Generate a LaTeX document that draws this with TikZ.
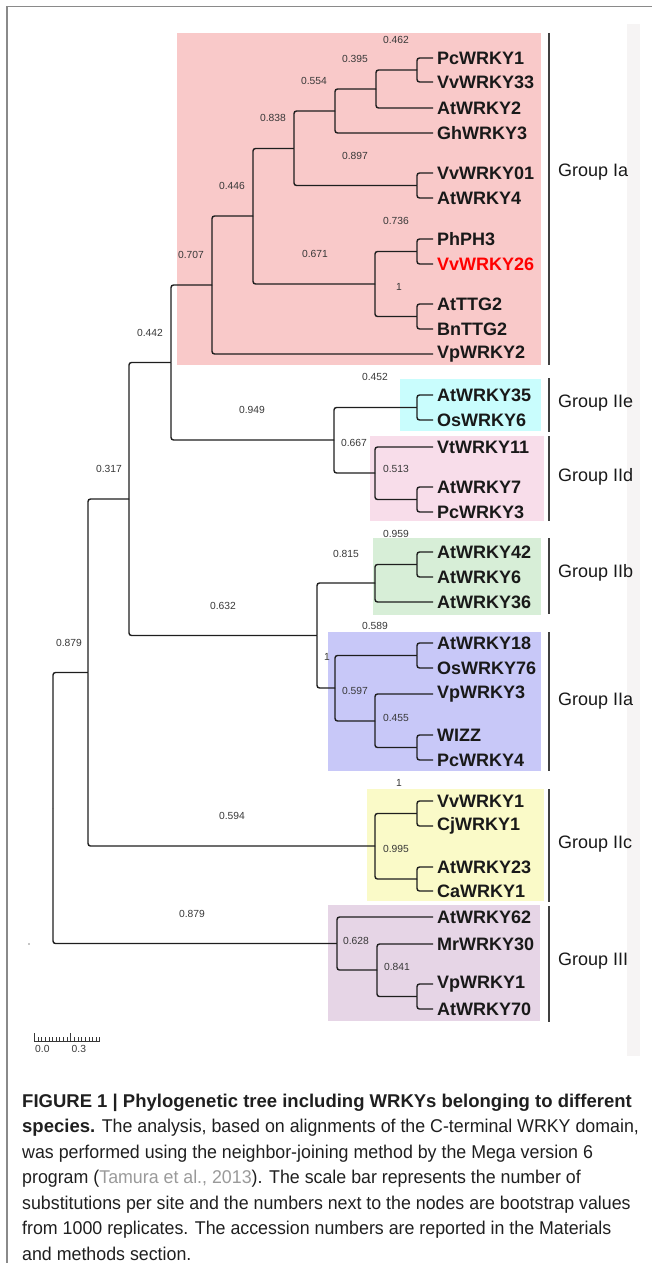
\documentclass[tikz,border=0pt]{standalone}
\usepackage{fontspec}
\setmainfont{Liberation Sans}
\newfontfamily\capfont{Liberation Sans}[FakeStretch=0.962]
\definecolor{treeline}{HTML}{1E1E1E}
\definecolor{bootgray}{HTML}{383838}
\definecolor{framegray}{HTML}{8A8A8A}
\definecolor{stripgray}{HTML}{F6F4F4}
\definecolor{citegray}{HTML}{9A9A9A}
\definecolor{fillIa}{HTML}{F9C9C9}
\definecolor{fillIIe}{HTML}{C9FDFD}
\definecolor{fillIId}{HTML}{F8DDEA}
\definecolor{fillIIb}{HTML}{D7EED7}
\definecolor{fillIIa}{HTML}{C8C8F8}
\definecolor{fillIIc}{HTML}{FAFAC8}
\definecolor{fillIII}{HTML}{E6D5E6}
\tikzset{
  branch/.style={draw=treeline, line width=1.4pt, rounded corners=2.5pt},
  leaf/.style={anchor=west, inner xsep=4pt, inner ysep=0pt, text=black!90,
    font=\bfseries\fontsize{18}{18}\selectfont},
  boot/.style={inner sep=0pt, text=bootgray, font=\fontsize{10.3}{10.3}\selectfont},
  grouplabel/.style={anchor=west, inner sep=0pt, text=black!90,
    font=\fontsize{18}{18}\selectfont},
  bracket/.style={draw=black!75, line width=1.4pt},
  capline/.style={anchor=base west, inner sep=0pt, text=black!88,
    font=\capfont\fontsize{18.5}{18.5}\selectfont},
}

\begin{document}
\begin{tikzpicture}[x=1pt, y=-1pt]
  \useasboundingbox (0,0) rectangle (652,1263);
  \draw[framegray, line width=1.5pt] (652,6.5) -- (7,6.5) -- (7,1263);
  \fill[stripgray] (627,24) rectangle (640,1056);

  \fill[fillIa] (177,33) rectangle (541,365);
  \fill[fillIIe] (400,379) rectangle (541,431);
  \fill[fillIId] (370,436) rectangle (544,521);
  \fill[fillIIb] (373,538) rectangle (541,615);
  \fill[fillIIa] (328,632) rectangle (541,771);
  \fill[fillIIc] (367,789) rectangle (544,901);
  \fill[fillIII] (328,905) rectangle (540,1021);

  \draw[bracket] (549,33) -- (549,365);
  \draw[bracket] (549,378) -- (549,432);
  \draw[bracket] (549,436) -- (549,521);
  \draw[bracket] (549,538) -- (549,614);
  \draw[bracket] (549,632) -- (549,771);
  \draw[bracket] (549,789) -- (549,902);
  \draw[bracket] (549,906) -- (549,1022);

  \node[grouplabel] (gIa) at (558,172) {Group Ia};
  \node[grouplabel] (gIIe) at (558,403) {Group IIe};
  \node[grouplabel] (gIId) at (558,477) {Group IId};
  \node[grouplabel] (gIIb) at (558,573) {Group IIb};
  \node[grouplabel] (gIIa) at (558,701) {Group IIa};
  \node[grouplabel] (gIIc) at (558,844) {Group IIc};
  \node[grouplabel] (gIII) at (558,961) {Group III};

  \node[leaf] (pc1) at (433,58) {PcWRKY1};
  \node[leaf] (vv33) at (433,82) {VvWRKY33};
  \node[leaf] (at2) at (433,108) {AtWRKY2};
  \node[leaf] (gh3) at (433,133) {GhWRKY3};
  \node[leaf] (vv01) at (433,173) {VvWRKY01};
  \node[leaf] (at4) at (433,198) {AtWRKY4};
  \node[leaf] (ph3) at (433,239) {PhPH3};
  \node[leaf, text=red] (vv26) at (433,264) {VvWRKY26};
  \node[leaf] (ttg2) at (433,304) {AtTTG2};
  \node[leaf] (bn2) at (433,329) {BnTTG2};
  \node[leaf] (vp2) at (433,354) {VpWRKY2};
  \node[leaf] (at35) at (433,395) {AtWRKY35};
  \node[leaf] (os6) at (433,420) {OsWRKY6};
  \node[leaf] (vt11) at (433,447) {VtWRKY11};
  \node[leaf] (at7) at (433,487) {AtWRKY7};
  \node[leaf] (pc3) at (433,512) {PcWRKY3};
  \node[leaf] (at42) at (433,552) {AtWRKY42};
  \node[leaf] (at6) at (433,577) {AtWRKY6};
  \node[leaf] (at36) at (433,602) {AtWRKY36};
  \node[leaf] (at18) at (433,643) {AtWRKY18};
  \node[leaf] (os76) at (433,668) {OsWRKY76};
  \node[leaf] (vp3) at (433,694) {VpWRKY3};
  \node[leaf] (wizz) at (433,735) {WIZZ};
  \node[leaf] (pc4) at (433,760) {PcWRKY4};
  \node[leaf] (vv1) at (433,801) {VvWRKY1};
  \node[leaf] (cj1) at (433,826) {CjWRKY1};
  \node[leaf] (at23) at (433,867) {AtWRKY23};
  \node[leaf] (ca1) at (433,891) {CaWRKY1};
  \node[leaf] (at62) at (433,917) {AtWRKY62};
  \node[leaf] (mr30) at (433,944) {MrWRKY30};
  \node[leaf] (vp1) at (433,984) {VpWRKY1};
  \node[leaf] (at70) at (433,1009) {AtWRKY70};

  \coordinate (nA) at (417,70);
  \coordinate (nB) at (376,89);
  \coordinate (nC) at (335,111);
  \coordinate (nE) at (417,185.5);
  \coordinate (nD) at (294,148.5);
  \coordinate (nF) at (417,251.5);
  \coordinate (nG) at (417,316.5);
  \coordinate (nH) at (375,284);
  \coordinate (nI) at (253,216);
  \coordinate (nJ) at (212,285);
  \coordinate (nM) at (417,407.5);
  \coordinate (nO) at (417,499.5);
  \coordinate (nN) at (375,473);
  \coordinate (nL) at (334,440);
  \coordinate (nK) at (171,362.5);
  \coordinate (nR) at (417,564.5);
  \coordinate (nS) at (375,583);
  \coordinate (nT) at (417,655.5);
  \coordinate (nU) at (417,747.5);
  \coordinate (nV) at (375,721);
  \coordinate (nW) at (335,688);
  \coordinate (nQ) at (317,635.5);
  \coordinate (nP) at (129,499);
  \coordinate (nZ) at (417,813.5);
  \coordinate (nY1) at (417,879);
  \coordinate (nY) at (375,846);
  \coordinate (nX) at (88,672.5);
  \coordinate (n3b) at (417,996.5);
  \coordinate (n3a) at (377,970);
  \coordinate (n3) at (337,943.5);
  \coordinate (root) at (53,808);

  \draw[branch] (nA) |- (pc1.west);
  \draw[branch] (nA) |- (vv33.west);
  \draw[branch] (nB) |- (nA);
  \draw[branch] (nB) |- (at2.west);
  \draw[branch] (nC) |- (nB);
  \draw[branch] (nC) |- (gh3.west);
  \draw[branch] (nE) |- (vv01.west);
  \draw[branch] (nE) |- (at4.west);
  \draw[branch] (nD) |- (nC);
  \draw[branch] (nD) |- (nE);
  \draw[branch] (nF) |- (ph3.west);
  \draw[branch] (nF) |- (vv26.west);
  \draw[branch] (nG) |- (ttg2.west);
  \draw[branch] (nG) |- (bn2.west);
  \draw[branch] (nH) |- (nF);
  \draw[branch] (nH) |- (nG);
  \draw[branch] (nI) |- (nD);
  \draw[branch] (nI) |- (nH);
  \draw[branch] (nJ) |- (nI);
  \draw[branch] (nJ) |- (vp2.west);
  \draw[branch] (nM) |- (at35.west);
  \draw[branch] (nM) |- (os6.west);
  \draw[branch] (nO) |- (at7.west);
  \draw[branch] (nO) |- (pc3.west);
  \draw[branch] (nN) |- (vt11.west);
  \draw[branch] (nN) |- (nO);
  \draw[branch] (nL) |- (nM);
  \draw[branch] (nL) |- (nN);
  \draw[branch] (nK) |- (nJ);
  \draw[branch] (nK) |- (nL);
  \draw[branch] (nR) |- (at42.west);
  \draw[branch] (nR) |- (at6.west);
  \draw[branch] (nS) |- (nR);
  \draw[branch] (nS) |- (at36.west);
  \draw[branch] (nT) |- (at18.west);
  \draw[branch] (nT) |- (os76.west);
  \draw[branch] (nU) |- (wizz.west);
  \draw[branch] (nU) |- (pc4.west);
  \draw[branch] (nV) |- (vp3.west);
  \draw[branch] (nV) |- (nU);
  \draw[branch] (nW) |- (nT);
  \draw[branch] (nW) |- (nV);
  \draw[branch] (nQ) |- (nS);
  \draw[branch] (nQ) |- (nW);
  \draw[branch] (nP) |- (nK);
  \draw[branch] (nP) |- (nQ);
  \draw[branch] (nZ) |- (vv1.west);
  \draw[branch] (nZ) |- (cj1.west);
  \draw[branch] (nY1) |- (at23.west);
  \draw[branch] (nY1) |- (ca1.west);
  \draw[branch] (nY) |- (nZ);
  \draw[branch] (nY) |- (nY1);
  \draw[branch] (nX) |- (nP);
  \draw[branch] (nX) |- (nY);
  \draw[branch] (n3b) |- (vp1.west);
  \draw[branch] (n3b) |- (at70.west);
  \draw[branch] (n3a) |- (mr30.west);
  \draw[branch] (n3a) |- (n3b);
  \draw[branch] (n3) |- (at62.west);
  \draw[branch] (n3) |- (n3a);
  \draw[branch] (root) |- (nX);
  \draw[branch] (root) |- (n3);

  \node[boot] (b1) at (396,40) {0.462};
  \node[boot] (b2) at (355,59) {0.395};
  \node[boot] (b3) at (314,81) {0.554};
  \node[boot] (b4) at (273,118) {0.838};
  \node[boot] (b5) at (355,156) {0.897};
  \node[boot] (b6) at (232,186) {0.446};
  \node[boot] (b7) at (396,221) {0.736};
  \node[boot] (b8) at (191,255) {0.707};
  \node[boot] (b9) at (315,254) {0.671};
  \node[boot] (b10) at (399,287) {1};
  \node[boot] (b11) at (150,333) {0.442};
  \node[boot] (b12) at (375,377) {0.452};
  \node[boot] (b13) at (252,410) {0.949};
  \node[boot] (b14) at (354,443) {0.667};
  \node[boot] (b15) at (109,469) {0.317};
  \node[boot] (b16) at (396,469) {0.513};
  \node[boot] (b17) at (396,534) {0.959};
  \node[boot] (b18) at (346,554) {0.815};
  \node[boot] (b19) at (223,606) {0.632};
  \node[boot] (b20) at (375,626) {0.589};
  \node[boot] (b21) at (69,643) {0.879};
  \node[boot] (b22) at (327,657) {1};
  \node[boot] (b23) at (355,691) {0.597};
  \node[boot] (b24) at (396,718) {0.455};
  \node[boot] (b25) at (399,783) {1};
  \node[boot] (b26) at (232,816) {0.594};
  \node[boot] (b27) at (396,849) {0.995};
  \node[boot] (b28) at (192,914) {0.879};
  \node[boot] (b29) at (356,941) {0.628};
  \node[boot] (b30) at (397,967) {0.841};

  \fill[black!45] (29,944) circle (0.8);

  \coordinate (s0) at (34.3,1041);
  \draw[bootgray, line width=0.8pt] (s0) -- ++(65.5,0);
  \foreach \i in {0,...,18} {
    \pgfmathsetmacro\tick{ifthenelse(mod(\i,10)==0,8,4.5)}
    \draw[bootgray, line width=0.7pt] ([xshift=3.64*\i pt]s0) -- ++(0,-\tick);
  }
  \node[boot, anchor=north west] (s00) at (35,1045.5) {0.0};
  \node[boot, anchor=north west] (s03) at (71.5,1045.5) {0.3};

  \node[capline] (c1) at (22,1107) {\normalfont\bfseries FIGURE 1 | Phylogenetic tree including WRKYs belonging to different};
  \node[capline] (c2) at (22,1132.5) {{\normalfont\bfseries species.} The analysis, based on alignments of the C-terminal WRKY domain,};
  \node[capline] (c3) at (22,1158) {was performed using the neighbor-joining method by the Mega version 6};
  \node[capline] (c4) at (22,1183.5) {program (\textcolor{citegray}{Tamura et al., 2013}). The scale bar represents the number of};
  \node[capline] (c5) at (22,1209) {substitutions per site and the numbers next to the nodes are bootstrap values};
  \node[capline] (c6) at (22,1234.5) {from 1000 replicates. The accession numbers are reported in the Materials};
  \node[capline] (c7) at (22,1260) {and methods section.};
\end{tikzpicture}
\end{document}
